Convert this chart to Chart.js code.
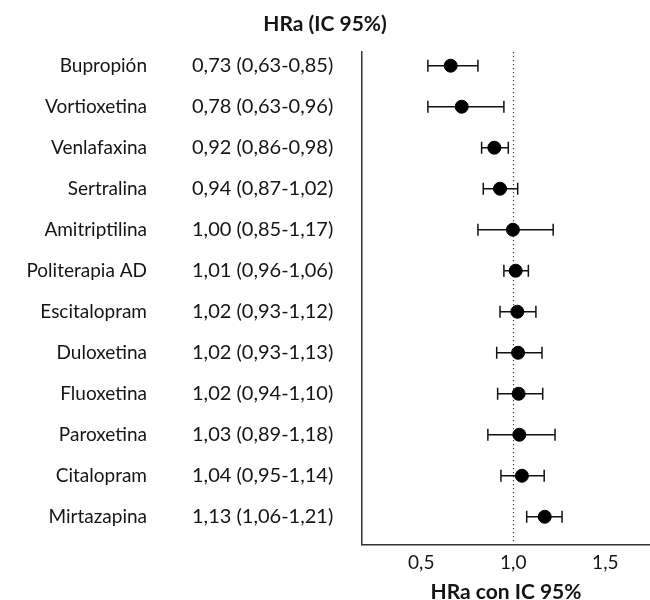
<!DOCTYPE html>
<html lang="es">
<head>
  <meta charset="UTF-8"/>
  <title>HRa (IC 95%)</title>
  <script src="https://cdn.jsdelivr.net/npm/chart.js"></script>
  <style>
    body { margin: 0; background: white; overflow: hidden; }
    .wrap { width: 650px; height: 600px; }
  </style>
</head>
<body>
<div class="wrap"><canvas id="forest"></canvas></div>

<script>
  // Fármacos y textos tal como aparecen en la tabla
  const drugs = ['Bupropión', 'Vortioxetina', 'Venlafaxina', 'Sertralina', 'Amitriptilina',
    'Politerapia AD', 'Escitalopram', 'Duloxetina', 'Fluoxetina', 'Paroxetina', 'Citalopram', 'Mirtazapina'];
  const hrText = ['0,73 (0,63-0,85)', '0,78 (0,63-0,96)', '0,92 (0,86-0,98)', '0,94 (0,87-1,02)',
    '1,00 (0,85-1,17)', '1,01 (0,96-1,06)', '1,02 (0,93-1,12)', '1,02 (0,93-1,13)',
    '1,02 (0,94-1,10)', '1,03 (0,89-1,18)', '1,04 (0,95-1,14)', '1,13 (1,06-1,21)'];

  // posiciones (escala del eje)
  const hr    = [0.660, 0.720, 0.897, 0.928, 0.998, 1.013, 1.022, 1.026, 1.029, 1.033, 1.047, 1.171];
  const lower = [0.536, 0.536, 0.828, 0.837, 0.808, 0.949, 0.928, 0.910, 0.915, 0.862, 0.933, 1.073];
  const upper = [0.808, 0.949, 0.973, 1.024, 1.217, 1.082, 1.123, 1.156, 1.160, 1.227, 1.168, 1.265];

  const xTicks = [0.5, 1.0, 1.5];
  const refLine = 1.0;

  const FONT = 'Lato, "Open Sans", sans-serif';
  const TXT = '#151515';

  const forestPlugin = {
    id: 'forest',
    beforeDatasetsDraw(chart) {
      const { ctx, scales: { x, y }, chartArea } = chart;
      ctx.save();
      // línea de referencia punteada
      ctx.strokeStyle = '#444';
      ctx.lineWidth = 1.2;
      ctx.setLineDash([1.2, 2.8]);
      const xr = Math.round(x.getPixelForValue(refLine)) + 0.5;
      ctx.beginPath();
      ctx.moveTo(xr, chartArea.top);
      ctx.lineTo(xr, chartArea.bottom);
      ctx.stroke();
      ctx.setLineDash([]);

      // intervalos de confianza
      ctx.strokeStyle = '#111';
      ctx.lineWidth = 1.5;
      hr.forEach((v, i) => {
        const yy = y.getPixelForValue(i);
        const x1 = x.getPixelForValue(lower[i]);
        const x2 = x.getPixelForValue(upper[i]);
        ctx.beginPath();
        ctx.moveTo(x1, yy); ctx.lineTo(x2, yy);
        ctx.moveTo(x1, yy - 6); ctx.lineTo(x1, yy + 6);
        ctx.moveTo(x2, yy - 6); ctx.lineTo(x2, yy + 6);
        ctx.stroke();
      });

      // columnas de texto a la izquierda
      ctx.fillStyle = TXT;
      ctx.textBaseline = 'middle';
      drugs.forEach((d, i) => {
        const yy = y.getPixelForValue(i);
        ctx.font = '19px ' + FONT;
        ctx.textAlign = 'right';
        ctx.fillText(d, 147, yy);
        ctx.font = '20px ' + FONT;
        ctx.textAlign = 'left';
        ctx.fillText(hrText[i], 192, yy);
      });
      ctx.restore();
    }
  };

  new Chart(document.getElementById('forest'), {
    type: 'scatter',
    data: {
      datasets: [{
        data: hr.map((v, i) => ({ x: v, y: i })),
        backgroundColor: '#000',
        borderColor: '#000',
        pointRadius: 6.5,
        pointHoverRadius: 6.5
      }]
    },
    options: {
      responsive: true,
      maintainAspectRatio: false,
      animation: false,
      layout: { padding: 0, autoPadding: false },
      plugins: {
        legend: { display: false },
        tooltip: { enabled: false },
        title: {
          display: true,
          text: 'HRa (IC 95%)',
          color: TXT,
          font: { family: FONT, size: 21, weight: 'bold', lineHeight: 1 },
          padding: { top: 14, bottom: 17 }
        }
      },
      scales: {
        x: {
          type: 'linear',
          min: 0.178,
          max: 1.743,
          afterBuildTicks: (axis) => { axis.ticks = xTicks.map(v => ({ value: v })); },
          afterFit: (axis) => { axis.paddingLeft = 0; axis.paddingRight = 0; },
          grid: { display: false, drawTicks: false },
          border: { display: true, color: '#333', width: 1.5 },
          ticks: {
            color: TXT,
            padding: 9,
            font: { family: FONT, size: 19, lineHeight: 1 },
            callback: (v) => v.toFixed(1).replace('.', ',')
          },
          title: {
            display: true,
            text: 'HRa con IC 95%',
            color: TXT,
            font: { family: FONT, size: 21, weight: 'bold', lineHeight: 0.75 },
            padding: { top: 3, bottom: 0 }
          }
        },
        y: {
          type: 'linear',
          reverse: true,
          min: -0.334,
          max: 11.67,
          grid: { display: false, drawTicks: false },
          border: { display: true, color: '#333', width: 1.5 },
          ticks: { display: false },
          afterFit: (axis) => { axis.width = 362; }
        }
      }
    },
    plugins: [forestPlugin]
  });
</script>
</body>
</html>
